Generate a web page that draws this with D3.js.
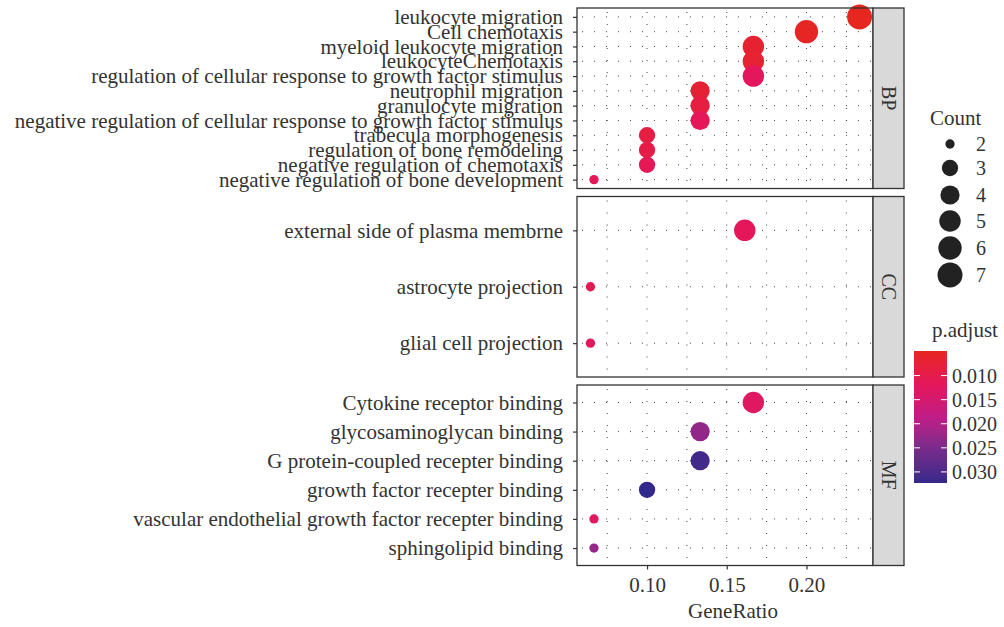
<!DOCTYPE html>
<html>
<head>
<meta charset="utf-8">
<script src="https://cdn.jsdelivr.net/npm/d3@7"></script>
<style>
  body { margin: 0; background: #fff; }
  svg text { font-family: "Liberation Serif", "Times New Roman", serif; fill: #333; }
</style>
</head>
<body>
<svg id="chart" width="1004" height="627" font-family="Liberation Serif, serif"></svg>
<script>
// panels (facet rows)
const panels = ["BP", "CC", "MF"];

// terms, top to bottom inside each panel
const termsBP = [
  "leukocyte migration", "Cell chemotaxis", "myeloid leukocyte migration",
  "leukocyteChemotaxis", "regulation of cellular response to growth factor stimulus",
  "neutrophil migration", "granulocyte migration",
  "negative regulation of cellular response to growth factor stimulus",
  "trabecula morphogenesis", "regulation of bone remodeling",
  "negative regulation of chemotaxis", "negative regulation of bone development"
];
const ratioBP = [0.2333, 0.2, 0.1667, 0.1667, 0.1667, 0.1333, 0.1333, 0.1333, 0.1, 0.1, 0.1, 0.0667];
const countBP = [7, 6, 5, 5, 5, 4, 4, 4, 3, 3, 3, 2];
const padjBP = [0.0049, 0.0055, 0.0068, 0.0070, 0.0120, 0.0072, 0.0085, 0.0118, 0.0090, 0.0095, 0.0112, 0.0115];

const termsCC = ["external side of plasma membrne", "astrocyte projection", "glial cell projection"];
const ratioCC = [0.1613, 0.0645, 0.0645];
const countCC = [5, 2, 2];
const padjCC = [0.0118, 0.0108, 0.0122];

const termsMF = [
  "Cytokine receptor binding", "glycosaminoglycan binding", "G protein-coupled recepter binding",
  "growth factor recepter binding", "vascular endothelial growth factor recepter binding",
  "sphingolipid binding"
];
const ratioMF = [0.1667, 0.1333, 0.1333, 0.1, 0.0667, 0.0667];
const countMF = [5, 4, 4, 3, 2, 2];
const padjMF = [0.0128, 0.0230, 0.0310, 0.0323, 0.0128, 0.0225];

const xTicks = [0.10, 0.15, 0.20];
const sizeBreaks = [2, 3, 4, 5, 6, 7];
const colorTicks = [0.010, 0.015, 0.020, 0.025, 0.030];
const colorStops = ["#e6261f", "#e5175a", "#c01d86", "#752b8b", "#33298a"];

const groups = [
  { name: "BP", terms: termsBP, ratio: ratioBP, count: countBP, padj: padjBP },
  { name: "CC", terms: termsCC, ratio: ratioCC, count: countCC, padj: padjCC },
  { name: "MF", terms: termsMF, ratio: ratioMF, count: countMF, padj: padjMF }
];

const svg = d3.select("#chart");
const serif = "Liberation Serif, serif";
const labelSize = 21;
const textSize = 20;

const left = 577, right = 873, stripW = 31;
const panelTop = 8, panelH = 180.5, panelGap = 8;

// x scale with 5% expansion
const allRatio = ratioBP.concat(ratioCC, ratioMF);
const ext = d3.extent(allRatio);
const pad = (ext[1] - ext[0]) * 0.05;
const x = d3.scaleLinear().domain([ext[0] - pad, ext[1] + pad]).range([left, right]);

const allCount = countBP.concat(countCC, countMF);
const allP = padjBP.concat(padjCC, padjMF);
const pExt = d3.extent(allP);

const color = d3.scaleSequential()
  .domain(pExt)
  .interpolator(d3.piecewise(d3.interpolateLab, colorStops));

// ggplot-like area size scale
const sizeT = d3.scaleLinear().domain(d3.extent(allCount)).range([0, 1]);
function radius(c) {
  const s = 1 + 5 * Math.sqrt(sizeT(c));
  return (3.14 * s + 6.16) / 2;
}

const minorTicks = [0.075, 0.125, 0.175, 0.225];

groups.forEach(function (gr, gi) {
  const top = panelTop + gi * (panelH + panelGap);
  const y = d3.scalePoint().domain(gr.terms).range([top, top + panelH]).padding(0.6);

  const g = svg.append("g");

  // grid
  const grid = g.append("g")
    .attr("stroke", "#444")
    .attr("stroke-width", 1)
    .attr("stroke-dasharray", "1,11");
  grid.selectAll("line.v")
    .data(xTicks.concat(minorTicks))
    .enter().append("line")
    .attr("x1", d => x(d)).attr("x2", d => x(d))
    .attr("y1", top + 4).attr("y2", top + panelH);
  grid.selectAll("line.h")
    .data(gr.terms)
    .enter().append("line")
    .attr("x1", left + 5).attr("x2", right)
    .attr("y1", d => y(d)).attr("y2", d => y(d));

  // dots
  g.selectAll("circle")
    .data(gr.terms.map((t, i) => ({ t: t, r: gr.ratio[i], c: gr.count[i], p: gr.padj[i] })))
    .enter().append("circle")
    .attr("cx", d => x(d.r))
    .attr("cy", d => y(d.t))
    .attr("r", d => radius(d.c))
    .attr("fill", d => color(d.p));

  // panel border
  g.append("rect")
    .attr("x", left).attr("y", top)
    .attr("width", right - left).attr("height", panelH)
    .attr("fill", "none").attr("stroke", "#333").attr("stroke-width", 1.3);

  // strip
  g.append("rect")
    .attr("x", right).attr("y", top)
    .attr("width", stripW).attr("height", panelH)
    .attr("fill", "#d9d9d9").attr("stroke", "#333").attr("stroke-width", 1.3);
  g.append("text")
    .attr("transform", "translate(" + (right + stripW / 2) + "," + (top + panelH / 2) + ") rotate(90)")
    .attr("text-anchor", "middle")
    .attr("dy", "0.35em")
    .attr("font-family", serif)
    .style("font-size", textSize + "px")
    .text(gr.name);

  // y axis
  const yAxis = g.append("g")
    .attr("transform", "translate(" + left + ",0)")
    .call(d3.axisLeft(y).tickSize(4).tickPadding(10));
  yAxis.attr("font-family", serif);
  yAxis.select(".domain").remove();
  yAxis.selectAll(".tick line").attr("stroke", "#333").attr("stroke-width", 1.2);
  yAxis.selectAll(".tick text")
    .style("font-size", labelSize + "px")
    .style("font-family", serif)
    .attr("fill", "#333");

  // x axis on last panel
  if (gi === groups.length - 1) {
    const xAxis = g.append("g")
      .attr("transform", "translate(0," + (top + panelH) + ")")
      .call(d3.axisBottom(x).tickValues(xTicks).tickFormat(d3.format(".2f")).tickSize(4).tickPadding(8));
    xAxis.attr("font-family", serif);
    xAxis.select(".domain").remove();
    xAxis.selectAll(".tick line").attr("stroke", "#333").attr("stroke-width", 1.2);
    xAxis.selectAll(".tick text")
      .style("font-size", labelSize + "px")
      .style("font-family", serif)
      .attr("fill", "#333");

    svg.append("text")
      .attr("x", 733).attr("y", 618)
      .attr("text-anchor", "middle")
      .attr("font-family", serif)
      .style("font-size", "21px")
      .text("GeneRatio");
  }
});

// size legend
const sizeLeg = svg.append("g").attr("font-family", serif);
sizeLeg.append("text").attr("x", 930).attr("y", 125).style("font-size", "21px").text("Count");
const legY = [144, 168, 195, 221, 248, 275];
sizeLeg.selectAll("circle")
  .data(sizeBreaks)
  .enter().append("circle")
  .attr("cx", 950).attr("cy", (d, i) => legY[i])
  .attr("r", d => radius(d))
  .attr("fill", "#222");
sizeLeg.selectAll("text.lab")
  .data(sizeBreaks)
  .enter().append("text")
  .attr("class", "lab")
  .attr("x", 976).attr("y", (d, i) => legY[i])
  .attr("dy", "0.35em")
  .style("font-size", textSize + "px")
  .text(d => d);

// colour bar legend
const barX = 914, barW = 33, barTop = 351, barBot = 483;
const cy = d3.scaleLinear().domain(pExt).range([barTop, barBot]);
const defs = svg.append("defs");
const grad = defs.append("linearGradient").attr("id", "pgrad")
  .attr("x1", 0).attr("y1", 0).attr("x2", 0).attr("y2", 1);
d3.range(0, 1.0001, 0.05).forEach(function (t) {
  grad.append("stop")
    .attr("offset", (t * 100) + "%")
    .attr("stop-color", color(pExt[0] + t * (pExt[1] - pExt[0])));
});
const cleg = svg.append("g").attr("font-family", serif);
cleg.append("text").attr("x", 932).attr("y", 337).style("font-size", "21px").text("p.adjust");
cleg.append("rect")
  .attr("x", barX).attr("y", barTop)
  .attr("width", barW).attr("height", barBot - barTop)
  .attr("fill", "url(#pgrad)");
colorTicks.forEach(function (v) {
  cleg.append("line").attr("x1", barX).attr("x2", barX + 6)
    .attr("y1", cy(v)).attr("y2", cy(v)).attr("stroke", "#fff").attr("stroke-width", 1);
  cleg.append("line").attr("x1", barX + barW - 6).attr("x2", barX + barW)
    .attr("y1", cy(v)).attr("y2", cy(v)).attr("stroke", "#fff").attr("stroke-width", 1);
});
cleg.selectAll("text.tick")
  .data(colorTicks)
  .enter().append("text")
  .attr("class", "tick")
  .attr("x", 952).attr("y", d => cy(d))
  .attr("dy", "0.35em")
  .style("font-size", textSize + "px")
  .text(d => d3.format(".3f")(d));
</script>
</body>
</html>
